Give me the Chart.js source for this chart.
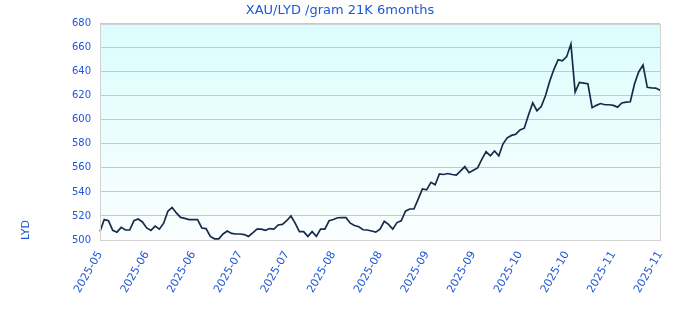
<!DOCTYPE html>
<html>
<head>
<meta charset="utf-8">
<script src="https://cdn.jsdelivr.net/npm/chart.js@4.4.0/dist/chart.umd.js"></script>
<style>
    html, body { margin: 0; padding: 0; background: #fff; }
    #wrap { width: 680px; height: 320px; }
</style>
</head>
<body>
<div id="wrap"><canvas id="goldChart"></canvas></div>
<script>
// Chart data
const chartTitle = 'XAU/LYD /gram 21K 6months';
const currencyLabel = 'LYD';
const firstTradingDay = '2025-05-20';
const tickEvery = 11; // a tick label every 11 trading days
const tickLabels = [
    '2025-05', '2025-06', '2025-06', '2025-07', '2025-07', '2025-08', '2025-08',
    '2025-09', '2025-09', '2025-10', '2025-10', '2025-11', '2025-11'
];
const prices = [
    507, 517, 516, 508, 506.5, 510.5, 508.3, 508.3, 516, 517.5,
    515, 510, 508, 511.5, 509, 514, 524, 527, 522.5, 518.8,
    518, 517, 517, 517, 510, 509.5, 503, 501, 501, 505,
    507.5, 505.5, 505, 505, 504.5, 503, 506, 509, 509, 508,
    509.5, 509, 512.5, 513, 516, 520, 514, 507, 507, 503,
    507, 503, 509, 509, 516, 517, 518.5, 518.6, 518.6, 514,
    512, 511, 508.5, 508.3, 507.5, 506.5, 509, 515.5, 513, 509,
    514.5, 516, 524, 525.8, 525.8, 534, 542.5, 541.7, 548, 546,
    555, 554.5, 555.3, 554.5, 554, 557.5, 561, 556, 558, 560,
    567, 573.5, 570, 574, 570, 580, 585, 587, 588, 591.5,
    593, 604, 614, 607.5, 611, 620, 632, 642, 650, 649,
    652.5, 663, 623, 631, 630.5, 630, 610, 612, 613.5, 612.5,
    612.5, 612, 610.5, 614, 614.7, 615, 630, 640, 645.5, 627,
    626.6, 626.4, 624.5
];
const yMin = 500;
const yMax = 680;
const yStep = 20;

// weekday dates for the category axis
function tradingDays(start, count) {
    const days = [];
    const d = new Date(start + 'T00:00:00Z');
    while (days.length < count) {
        const wd = d.getUTCDay();
        if (wd !== 0 && wd !== 6) days.push(d.toISOString().slice(0, 10));
        d.setUTCDate(d.getUTCDate() + 1);
    }
    return days;
}
const labels = tradingDays(firstTradingDay, prices.length);

const textBlue = '#1f58d6';
const fontFamily = '"DejaVu Sans", Verdana, sans-serif';

// light cyan gradient behind the plot, grey frame round it
const plotBackground = {
    id: 'plotBackground',
    beforeDraw(chart) {
        const { ctx, chartArea: a } = chart;
        if (!a) return;
        const g = ctx.createLinearGradient(0, a.top, 0, a.bottom);
        g.addColorStop(0, '#dbfdfd');
        g.addColorStop(1, '#fbfefe');
        ctx.save();
        ctx.fillStyle = g;
        ctx.fillRect(a.left, a.top, a.right - a.left, a.bottom - a.top);
        ctx.restore();
    },
    afterDraw(chart) {
        const { ctx, chartArea: a } = chart;
        ctx.save();
        ctx.strokeStyle = '#d2d2d2';
        ctx.lineWidth = 1;
        ctx.strokeRect(Math.round(a.left) + 0.5, Math.round(a.top) + 0.5,
            Math.round(a.right - a.left), Math.round(a.bottom - a.top));
        ctx.restore();
    }
};

const ctx = document.getElementById('goldChart');
new Chart(ctx, {
    type: 'line',
    data: {
        labels: labels,
        datasets: [{
            label: chartTitle,
            data: prices,
            borderColor: '#172a4a',
            borderWidth: 1.7,
            pointRadius: 0,
            tension: 0,
            fill: false
        }]
    },
    options: {
        responsive: true,
        maintainAspectRatio: false,
        animation: false,
        layout: { padding: { left: 20, right: 20, top: 0, bottom: 0 } },
        plugins: {
            legend: { display: false },
            tooltip: { enabled: false },
            title: {
                display: true,
                text: chartTitle,
                color: textBlue,
                font: { family: fontFamily, size: 13, weight: 'normal' },
                padding: { top: 3, bottom: 5 }
            }
        },
        scales: {
            x: {
                offset: false,
                grid: { display: false },
                border: { display: false },
                afterFit(scale) { scale.height = 80; },
                ticks: {
                    autoSkip: false,
                    minRotation: 60,
                    maxRotation: 60,
                    padding: 1,
                    color: textBlue,
                    font: { family: fontFamily, size: 11 },
                    callback(value, index) {
                        return index % tickEvery === 0 ? tickLabels[index / tickEvery] : null;
                    }
                }
            },
            y: {
                min: yMin,
                max: yMax,
                afterFit(scale) { scale.width = 80; },
                grid: { color: '#c8c8c8', drawTicks: false },
                border: { display: false },
                ticks: {
                    stepSize: yStep,
                    padding: 9,
                    color: textBlue,
                    font: { family: fontFamily, size: 10 }
                },
                title: {
                    display: true,
                    text: currencyLabel,
                    align: 'start',
                    color: textBlue,
                    font: { family: fontFamily, size: 11 },
                    padding: { top: 0, bottom: 0 }
                }
            }
        }
    },
    plugins: [plotBackground]
});
</script>
</body>
</html>
